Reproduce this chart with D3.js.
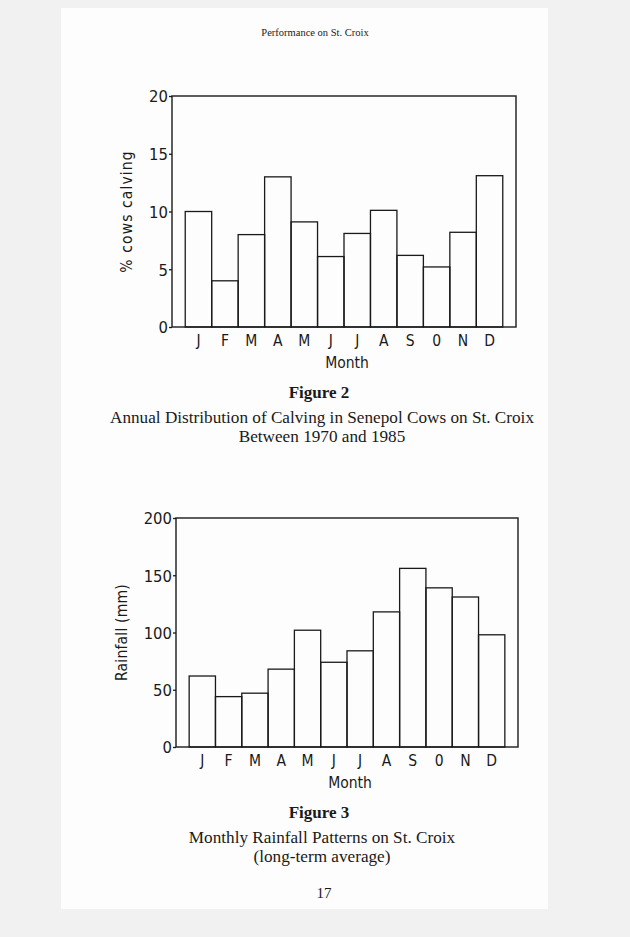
<!DOCTYPE html>
<html>
<head>
<meta charset="utf-8">
<script src="https://cdn.jsdelivr.net/npm/d3@7/dist/d3.min.js"></script>
<style>
  html, body { margin: 0; padding: 0; background: #f1f1f1; }
  svg { display: block; }
</style>
</head>
<body>
<svg id="page" width="630" height="937"></svg>
<script>
// ---- data ----
const months = ["J","F","M","A","M","J","J","A","S","O","N","D"];
const monthLabels = ["J","F","M","A","M","J","J","A","S","0","N","D"];
const calving = [10, 4, 8, 13, 9.1, 6.1, 8.1, 10.1, 6.2, 5.2, 8.2, 13.1];
const rainfall = [62, 44, 47, 68, 102, 74, 84, 118, 156, 139, 131, 98];
const calvingTicks = [0, 5, 10, 15, 20];
const rainfallTicks = [0, 50, 100, 150, 200];

const svg = d3.select("#page");
const ink = "#1a1a1a";
const plotFont = "'DejaVu Sans Condensed', 'DejaVu Sans', sans-serif";
const serif = "'Liberation Serif', 'Times New Roman', serif";

// page
svg.append("rect").attr("x", 61).attr("y", 8).attr("width", 487).attr("height", 901)
  .attr("fill", "#fdfdfd");

svg.append("text").attr("x", 315).attr("y", 36).attr("text-anchor", "middle")
  .attr("font-family", serif).attr("font-size", 10.5).attr("fill", ink)
  .text("Performance on St. Croix");

function drawChart(cfg) {
  const g = svg.append("g");
  const x = d3.scaleBand().domain(d3.range(months.length))
    .range([cfg.left, cfg.right]).paddingInner(0).paddingOuter(0.5);
  const y = d3.scaleLinear().domain([cfg.ticks[0], cfg.ticks[cfg.ticks.length - 1]])
    .range([cfg.bottom, cfg.top]);

  // bars
  g.append("g").selectAll("rect").data(cfg.values).join("rect")
    .attr("x", (d, i) => x(i))
    .attr("y", d => y(d))
    .attr("width", x.bandwidth())
    .attr("height", d => y(0) - y(d))
    .attr("fill", "none").attr("stroke", ink).attr("stroke-width", 1.3);

  // frame
  g.append("rect").attr("x", cfg.left).attr("y", cfg.top)
    .attr("width", cfg.right - cfg.left).attr("height", cfg.bottom - cfg.top)
    .attr("fill", "none").attr("stroke", ink).attr("stroke-width", 1.4);

  // y axis
  const ya = g.append("g").attr("transform", `translate(${cfg.left},0)`)
    .call(d3.axisLeft(y).tickValues(cfg.ticks).tickSize(3).tickPadding(1));
  ya.select(".domain").remove();
  ya.selectAll("line").attr("stroke", ink).attr("stroke-width", 1.3);
  ya.selectAll("text").attr("font-family", plotFont).attr("font-size", 16.5)
    .attr("fill", ink).attr("dy", "0.36em");

  // x axis
  const xa = g.append("g").attr("transform", `translate(0,${cfg.bottom})`)
    .call(d3.axisBottom(x).tickSize(0).tickPadding(8).tickFormat(i => monthLabels[i]));
  xa.select(".domain").remove();
  xa.selectAll("text").attr("font-family", plotFont).attr("font-size", 15.5).attr("fill", ink);

  // axis titles
  g.append("text").attr("x", (cfg.left + cfg.right) / 2 + 3).attr("y", cfg.bottom + 41)
    .attr("text-anchor", "middle").attr("font-family", plotFont).attr("font-size", 15.5)
    .attr("fill", ink).text("Month");
  g.append("text")
    .attr("transform", `translate(${cfg.ylabX},${(cfg.top + cfg.bottom) / 2}) rotate(-90)`)
    .attr("text-anchor", "middle").attr("font-family", plotFont).attr("font-size", 15.5)
    .attr("letter-spacing", cfg.ylabSpacing)
    .attr("fill", ink).text(cfg.ylabel);

  // captions
  g.append("text").attr("x", 319).attr("y", cfg.bottom + 71).attr("text-anchor", "middle")
    .attr("font-family", serif).attr("font-weight", "bold").attr("font-size", 17)
    .attr("fill", ink).text(cfg.fig);
  cfg.caption.forEach((t, k) => {
    g.append("text").attr("x", 322).attr("y", cfg.bottom + 95.5 + k * 19.5).attr("text-anchor", "middle")
      .attr("font-family", serif).attr("font-size", 17.2).attr("fill", ink).text(t);
  });
}

drawChart({
  left: 172, right: 516, top: 96, bottom: 327,
  values: calving, ticks: calvingTicks, ylabel: "% cows calving", ylabX: 132, ylabSpacing: 1.1,
  fig: "Figure 2",
  caption: ["Annual Distribution of Calving in Senepol Cows on St. Croix", "Between 1970 and 1985"]
});

drawChart({
  left: 176, right: 518, top: 518, bottom: 747,
  values: rainfall, ticks: rainfallTicks, ylabel: "Rainfall (mm)", ylabX: 127, ylabSpacing: 0.2,
  fig: "Figure 3",
  caption: ["Monthly Rainfall Patterns on St. Croix", "(long-term average)"]
});

svg.append("text").attr("x", 324).attr("y", 898).attr("text-anchor", "middle")
  .attr("font-family", serif).attr("font-size", 15).attr("fill", ink).text("17");
</script>
</body>
</html>
